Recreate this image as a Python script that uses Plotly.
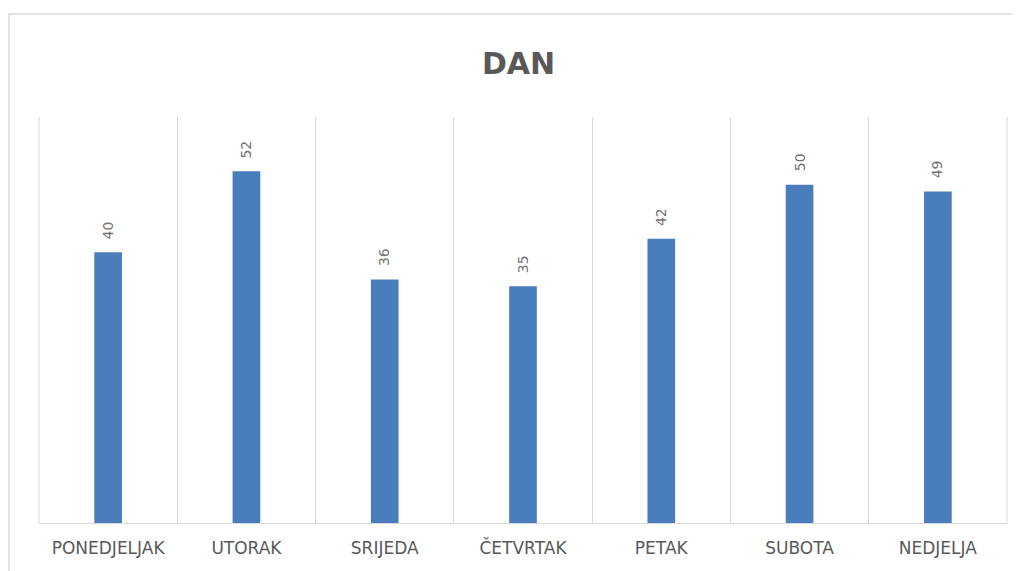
import plotly.graph_objects as go

days = ["PONEDJELJAK", "UTORAK", "SRIJEDA", "ČETVRTAK", "PETAK", "SUBOTA", "NEDJELJA"]
values = [40, 52, 36, 35, 42, 50, 49]

fig = go.Figure()
fig.add_trace(go.Bar(
    x=days, y=values, width=0.2,
    marker=dict(color="#4a7dbb", line=dict(width=0)),
    hoverinfo="x+y",
))

for d, v in zip(days, values):
    fig.add_annotation(x=d, y=v, text=str(v), textangle=-90, showarrow=False,
                       yanchor="bottom", xanchor="center", yshift=11,
                       font=dict(family="DejaVu Sans", size=14, color="#737373"))

fig.update_layout(
    width=1012, height=563,
    margin=dict(l=31, r=13, t=109, b=48),
    paper_bgcolor="white", plot_bgcolor="white",
    title=dict(text="<b>DAN</b>", x=0.5045, xanchor="center", y=0.902, yanchor="middle",
               font=dict(family="DejaVu Sans", size=30, color="#595959")),
    showlegend=False,
    xaxis=dict(
        type="category", range=[-0.5, 6.5], tickson="boundaries",
        showgrid=True, gridcolor="#d9d9d9", gridwidth=1,
        showline=True, linecolor="#d9d9d9", ticks="", ticklabelstandoff=10,
        tickfont=dict(family="DejaVu Sans", size=17, color="#595959"),
    ),
    yaxis=dict(range=[0, 60], showgrid=False, showticklabels=False, zeroline=False, showline=False),
    shapes=[
        dict(type="rect", xref="paper", yref="paper", x0=-0.031, x1=1.05, y0=-0.3, y1=1.2537,
             line=dict(color="#d9d9d9", width=1.5), layer="below"),
        dict(type="line", xref="paper", yref="paper", x0=0, x1=0, y0=0, y1=1,
             line=dict(color="#d9d9d9", width=1), layer="below"),
        dict(type="line", xref="paper", yref="paper", x0=1, x1=1, y0=0, y1=1,
             line=dict(color="#d9d9d9", width=1), layer="below"),
    ],
)

fig.write_html("out.html")
